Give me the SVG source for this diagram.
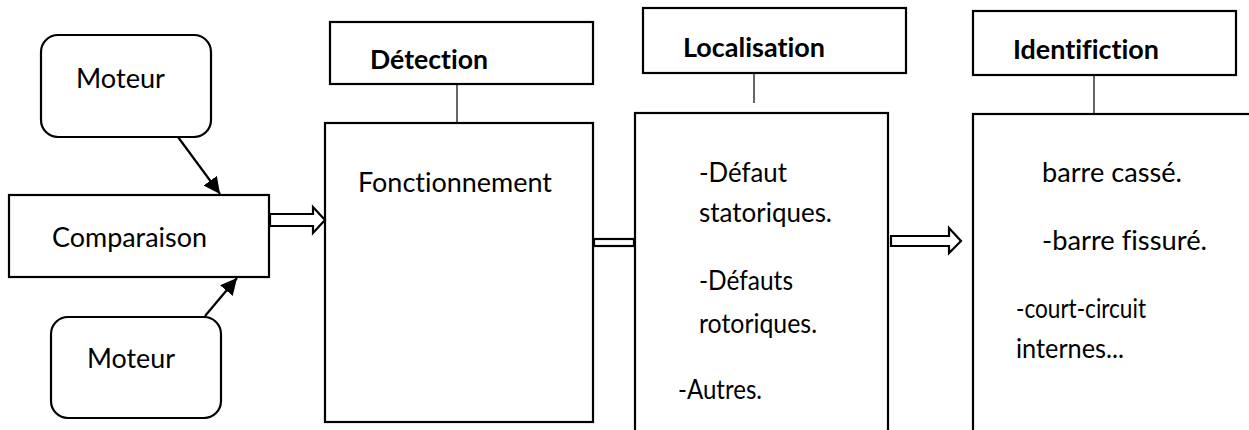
<svg xmlns="http://www.w3.org/2000/svg" width="1249" height="430" viewBox="0 0 1249 430">
  <style>
    .box { fill: #fff; stroke: #000; stroke-width: 2.2; }
    .link { stroke: #000; stroke-width: 1.2; fill: none; }
    .arrow { stroke: #000; stroke-width: 2.2; fill: none; }
    .block { fill: #fff; stroke: #000; stroke-width: 2.2; stroke-linejoin: miter; }
    text { font-family: Lato, "Open Sans", "Liberation Sans", sans-serif; font-size: 27px; fill: #000; font-variant-ligatures: none; }
    .bold { font-weight: bold; }
  </style>
  <defs>
    <marker id="head" viewBox="0 0 10 10" refX="10" refY="5" markerWidth="7.5" markerHeight="8" markerUnits="strokeWidth" orient="auto">
      <path d="M0,0 L10,5 L0,10 Z" fill="#000"/>
    </marker>
  </defs>

  <rect width="1249" height="430" fill="#fff"/>

  <!-- input motors and comparison stage -->
  <g id="moteur-haut">
    <rect class="box" x="41" y="35" width="170" height="102" rx="17"/>
    <text x="76" y="88" textLength="89" lengthAdjust="spacingAndGlyphs">Moteur</text>
  </g>
  <g id="comparaison">
    <rect class="box" x="9" y="195" width="260" height="82"/>
    <text x="52" y="247" textLength="155" lengthAdjust="spacingAndGlyphs">Comparaison</text>
  </g>
  <g id="moteur-bas">
    <rect class="box" x="51" y="317" width="170" height="101" rx="17"/>
    <text x="87" y="368" textLength="88" lengthAdjust="spacingAndGlyphs">Moteur</text>
  </g>

  <!-- detection stage -->
  <g id="detection">
    <rect class="box" x="330" y="22" width="263" height="62"/>
    <text class="bold" x="370" y="69" textLength="118" lengthAdjust="spacingAndGlyphs">Détection</text>
    <line class="link" x1="457" y1="84" x2="457" y2="123"/>
    <rect class="box" x="325" y="123" width="268" height="299"/>
    <text x="358" y="192" textLength="194" lengthAdjust="spacingAndGlyphs">Fonctionnement</text>
  </g>

  <!-- localisation stage -->
  <g id="localisation">
    <rect class="box" x="643" y="8" width="263" height="65"/>
    <text class="bold" x="683" y="57" textLength="142" lengthAdjust="spacingAndGlyphs">Localisation</text>
    <line class="link" x1="754" y1="73" x2="754" y2="103"/>
    <rect class="box" x="635" y="113" width="253" height="330"/>
    <text x="699" y="182" textLength="88" lengthAdjust="spacingAndGlyphs">-Défaut</text>
    <text x="699" y="222" textLength="133" lengthAdjust="spacingAndGlyphs">statoriques.</text>
    <text x="699" y="290" textLength="94" lengthAdjust="spacingAndGlyphs">-Défauts</text>
    <text x="699" y="333" textLength="118" lengthAdjust="spacingAndGlyphs">rotoriques.</text>
    <text x="678" y="399" textLength="84" lengthAdjust="spacingAndGlyphs">-Autres.</text>
  </g>

  <!-- identification stage -->
  <g id="identification">
    <rect class="box" x="973" y="11" width="263" height="64"/>
    <text class="bold" x="1013" y="59" textLength="146" lengthAdjust="spacingAndGlyphs">Identifiction</text>
    <line class="link" x1="1094" y1="75" x2="1094" y2="114"/>
    <rect class="box" x="973" y="114" width="300" height="330"/>
    <text x="1042" y="182" textLength="140" lengthAdjust="spacingAndGlyphs">barre cassé.</text>
    <text x="1042" y="250" textLength="165" lengthAdjust="spacingAndGlyphs">-barre fissuré.</text>
    <text x="1016" y="318" textLength="130" lengthAdjust="spacingAndGlyphs">-court-circuit</text>
    <text x="1016" y="358" textLength="108" lengthAdjust="spacingAndGlyphs">internes...</text>
  </g>

  <!-- connectors -->
  <g id="connectors">
    <line class="arrow" x1="178" y1="137" x2="220" y2="194" marker-end="url(#head)"/>
    <line class="arrow" x1="205" y1="316" x2="237" y2="278" marker-end="url(#head)"/>
    <polygon class="block" points="270,214 313,214 313,207 325,220 313,233 313,226 270,226"/>
    <rect class="block" x="594" y="239" width="40" height="7"/>
    <polygon class="block" points="891,236 949,236 949,228 961,241 949,253 949,246 891,246"/>
  </g>
</svg>
